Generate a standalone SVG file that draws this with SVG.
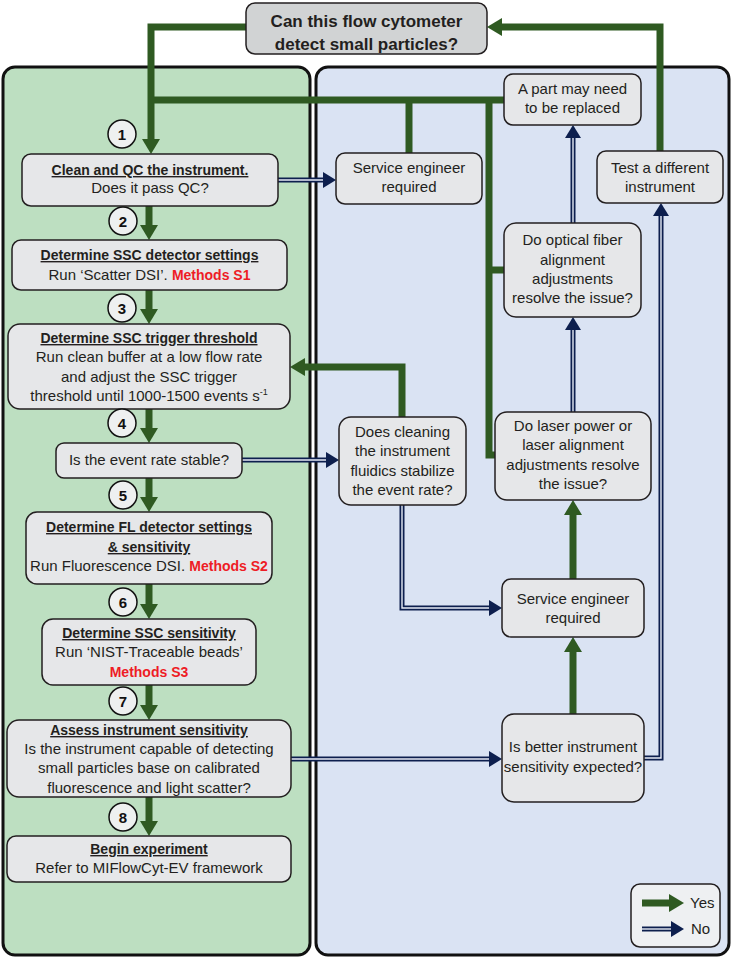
<svg xmlns="http://www.w3.org/2000/svg" width="733" height="959" viewBox="0 0 733 959">
<style>
.box{fill:#e6e7e9;stroke:#231f20;stroke-width:1.5}
.panel{stroke:#111;stroke-width:3}
.t{font-family:"Liberation Sans",Arial,sans-serif;font-size:15px;fill:#231f20;text-anchor:middle}
.b{font-weight:bold}
.u{font-weight:bold;font-size:14px;text-decoration:underline}
.red{fill:#ee1c25;font-weight:bold;font-size:14px}
.num{font-family:"Liberation Sans",Arial,sans-serif;font-size:15px;font-weight:bold;fill:#111;text-anchor:middle}
.circ{fill:#eef0f0;stroke:#111;stroke-width:1.5}
.yes{fill:none;stroke:#2f5a22;stroke-width:7}
.no{fill:none;stroke:#0d1f4e;stroke-width:5}
.noin{fill:none;stroke:#e8edf7;stroke-width:1.4}
</style>
<defs>
<marker id="gh" markerUnits="userSpaceOnUse" markerWidth="16" markerHeight="20" refX="0" refY="10" orient="auto">
<path d="M0,1 L15,10 L0,19 z" fill="#2f5a22"/>
</marker>
<marker id="nh" markerUnits="userSpaceOnUse" markerWidth="14" markerHeight="18" refX="0" refY="9" orient="auto">
<path d="M0,1 L13,9 L0,17 z" fill="#0d1f4e"/>
</marker>
</defs>

<rect class="panel" x="3" y="67" width="307" height="888" rx="12" fill="#bddfc1"/>
<rect class="panel" x="316" y="67" width="413" height="888" rx="12" fill="#dae3f3"/>

<g id="connectors">
<path class="yes" d="M246,27 H151 V139" marker-end="url(#gh)"/>
<path class="yes" d="M504,100 H151"/>
<path class="yes" d="M409,153 V100"/>
<path class="yes" d="M495,455 H489 V100"/>
<path class="yes" d="M504,270 H489"/>
<path class="yes" d="M660,151 V27 H502" marker-end="url(#gh)"/>
<path class="yes" d="M402,417 V367 H305" marker-end="url(#gh)"/>
<path class="yes" d="M149,206 V225" marker-end="url(#gh)"/>
<path class="yes" d="M149,290 V309" marker-end="url(#gh)"/>
<path class="yes" d="M149,409 V428" marker-end="url(#gh)"/>
<path class="yes" d="M149,478 V497" marker-end="url(#gh)"/>
<path class="yes" d="M149,584 V604" marker-end="url(#gh)"/>
<path class="yes" d="M149,685 V705" marker-end="url(#gh)"/>
<path class="yes" d="M149,797 V821" marker-end="url(#gh)"/>
<path class="yes" d="M573,579 V515" marker-end="url(#gh)"/>
<path class="yes" d="M573,714 V652" marker-end="url(#gh)"/>
<path class="no" d="M278,180 H323" marker-end="url(#nh)"/>
<path class="noin" d="M278,180 H323"/>
<path class="no" d="M242,460 H326" marker-end="url(#nh)"/>
<path class="noin" d="M242,460 H326"/>
<path class="no" d="M402,505 V608 H489" marker-end="url(#nh)"/>
<path class="noin" d="M402,505 V608 H489"/>
<path class="no" d="M291,759 H489" marker-end="url(#nh)"/>
<path class="noin" d="M291,759 H489"/>
<path class="no" d="M644,758 H661 V216" marker-end="url(#nh)"/>
<path class="noin" d="M644,758 H661 V216"/>
<path class="no" d="M573,412 V330" marker-end="url(#nh)"/>
<path class="noin" d="M573,412 V330"/>
<path class="no" d="M573,223 V138" marker-end="url(#nh)"/>
<path class="noin" d="M573,223 V138"/>
</g>

<g id="start">
<rect x="246" y="3" width="241" height="51" rx="9" fill="#d1d3d4" stroke="#231f20" stroke-width="1.5"/>
<text class="t b" x="366.5" y="27" style="font-size:17px">Can this flow cytometer</text>
<text class="t b" x="366.5" y="50" style="font-size:17px">detect small particles?</text>
</g>

<g id="step1">
<circle class="circ" cx="122" cy="134" r="14"/><text class="num" x="122" y="139.5">1</text>
<rect class="box" x="22" y="154" width="256" height="52" rx="9"/>
<text class="t u" x="150" y="175">Clean and QC the instrument.</text>
<text class="t" x="150" y="193">Does it pass QC?</text>
</g>

<g id="step2">
<circle class="circ" cx="123" cy="221" r="14"/><text class="num" x="123" y="226.5">2</text>
<rect class="box" x="12" y="240" width="275" height="50" rx="9"/>
<text class="t u" x="149.5" y="260">Determine SSC detector settings</text>
<text class="t" x="149.5" y="280">Run ‘Scatter DSI’. <tspan class="red">Methods S1</tspan></text>
</g>

<g id="step3">
<circle class="circ" cx="122" cy="308" r="14"/><text class="num" x="122" y="313.5">3</text>
<rect class="box" x="8" y="324" width="282" height="85" rx="12"/>
<text class="t u" x="149" y="343">Determine SSC trigger threshold</text>
<text class="t" x="149" y="362">Run clean buffer at a low flow rate</text>
<text class="t" x="149" y="382">and adjust the SSC trigger</text>
<text class="t" x="149" y="401">threshold until 1000-1500 events s<tspan dy="-6" style="font-size:9px">-1</tspan></text>
</g>

<g id="step4">
<circle class="circ" cx="122" cy="423" r="14"/><text class="num" x="122" y="428.5">4</text>
<rect class="box" x="56" y="443" width="186" height="35" rx="8"/>
<text class="t" x="149" y="465">Is the event rate stable?</text>
</g>

<g id="step5">
<circle class="circ" cx="123" cy="495" r="14"/><text class="num" x="123" y="500.5">5</text>
<rect class="box" x="26" y="512" width="246" height="72" rx="11"/>
<text class="t u" x="149" y="532">Determine FL detector settings</text>
<text class="t u" x="149" y="552">&amp; sensitivity</text>
<text class="t" x="149" y="571">Run Fluorescence DSI. <tspan class="red">Methods S2</tspan></text>
</g>

<g id="step6">
<circle class="circ" cx="123" cy="602" r="14"/><text class="num" x="123" y="607.5">6</text>
<rect class="box" x="42" y="619" width="214" height="66" rx="11"/>
<text class="t u" x="149" y="638">Determine SSC sensitivity</text>
<text class="t" x="149" y="657">Run ‘NIST-Traceable beads’</text>
<text class="t red" x="149" y="677">Methods S3</text>
</g>

<g id="step7">
<circle class="circ" cx="123" cy="701" r="14"/><text class="num" x="123" y="706.5">7</text>
<rect class="box" x="7" y="720" width="284" height="77" rx="12"/>
<text class="t u" x="149" y="735">Assess instrument sensitivity</text>
<text class="t" x="149" y="754">Is the instrument capable of detecting</text>
<text class="t" x="149" y="773">small particles base on calibrated</text>
<text class="t" x="149" y="793">fluorescence and light scatter?</text>
</g>

<g id="step8">
<circle class="circ" cx="123" cy="817" r="14"/><text class="num" x="123" y="822.5">8</text>
<rect class="box" x="7" y="836" width="284" height="46" rx="9"/>
<text class="t u" x="149" y="854">Begin experiment</text>
<text class="t" x="149" y="873">Refer to MIFlowCyt-EV framework</text>
</g>

<g id="part">
<rect class="box" x="504" y="74" width="137" height="51" rx="9"/>
<text class="t" x="572.5" y="94">A part may need</text>
<text class="t" x="572.5" y="113">to be replaced</text>
</g>

<g id="service1">
<rect class="box" x="336" y="153" width="146" height="51" rx="9"/>
<text class="t" x="409" y="173">Service engineer</text>
<text class="t" x="409" y="192">required</text>
</g>

<g id="testdiff">
<rect class="box" x="597" y="151" width="126" height="52" rx="9"/>
<text class="t" x="660" y="173">Test a different</text>
<text class="t" x="660" y="192">instrument</text>
</g>

<g id="optical">
<rect class="box" x="504" y="223" width="137" height="94" rx="12"/>
<text class="t" x="572.5" y="245">Do optical fiber</text>
<text class="t" x="572.5" y="265">alignment</text>
<text class="t" x="572.5" y="284">adjustments</text>
<text class="t" x="572.5" y="303">resolve the issue?</text>
</g>

<g id="laser">
<rect class="box" x="495" y="412" width="156" height="88" rx="12"/>
<text class="t" x="573" y="431">Do laser power or</text>
<text class="t" x="573" y="450">laser alignment</text>
<text class="t" x="573" y="470">adjustments resolve</text>
<text class="t" x="573" y="489">the issue?</text>
</g>

<g id="cleaning">
<rect class="box" x="339" y="417" width="127" height="88" rx="12"/>
<text class="t" x="402.5" y="437">Does cleaning</text>
<text class="t" x="402.5" y="456">the instrument</text>
<text class="t" x="402.5" y="476">fluidics stabilize</text>
<text class="t" x="402.5" y="495">the event rate?</text>
</g>

<g id="service2">
<rect class="box" x="502" y="579" width="142" height="58" rx="9"/>
<text class="t" x="573" y="604">Service engineer</text>
<text class="t" x="573" y="623">required</text>
</g>

<g id="better">
<rect class="box" x="502" y="714" width="142" height="88" rx="12"/>
<text class="t" x="573" y="752">Is better instrument</text>
<text class="t" x="573" y="772">sensitivity expected?</text>
</g>

<g id="legend">
<rect x="631" y="884" width="89" height="63" rx="9" fill="#eef0f2" stroke="#231f20" stroke-width="1.5"/>
<path class="yes" d="M642,903 H669" marker-end="url(#gh)"/>
<path class="no" d="M642,929 H671" marker-end="url(#nh)"/>
<path class="noin" d="M642,929 H671"/>
<text class="t" x="690" y="908" style="text-anchor:start">Yes</text>
<text class="t" x="691" y="934" style="text-anchor:start">No</text>
</g>
</svg>
